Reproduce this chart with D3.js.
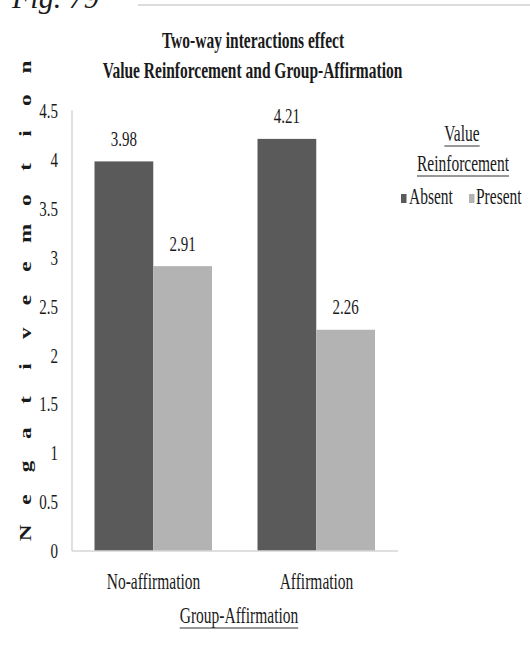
<!DOCTYPE html>
<html>
<head>
<meta charset="utf-8">
<script src="https://cdn.jsdelivr.net/npm/d3@7"></script>
<style>
  html, body { margin: 0; padding: 0; background: #fff; }
  svg { display: block; }
  text { font-family: "Liberation Serif", "Times New Roman", serif; fill: #1a1a1a; }
</style>
</head>
<body>
<svg id="chart" width="530" height="663"></svg>
<script>
// ---- data ----
const categories = ["No-affirmation", "Affirmation"];
const seriesNames = ["Absent", "Present"];
const absentValues = [3.98, 4.21];
const presentValues = [2.91, 2.26];
const yTickValues = [0, 0.5, 1, 1.5, 2, 2.5, 3, 3.5, 4, 4.5];
const yTickLabels = ["0", "0.5", "1", "1.5", "2", "2.5", "3", "3.5", "4", "4.5"];
const titleLines = ["Two-way interactions effect", "Value Reinforcement and Group-Affirmation"];
const yAxisTitle = "Negative emotion";
const xAxisTitle = "Group-Affirmation";
const legendTitle = ["Value", "Reinforcement"];
const figLabel = "Fig. 79";

// ---- style ----
const colors = { Absent: "#5a5a5a", Present: "#b3b3b3" };
const axisColor = "#d6d6d6";
const S = 1.45;          // vertical stretch applied to the text glyphs
const fs = 15.5;

const svg = d3.select("#chart");

// text helper: baseline at (x, y), glyphs stretched vertically by S
function label(parent, x, y, str, opts = {}) {
  return parent.append("text")
    .attr("transform", `translate(${x},${y}) scale(1,${S})`)
    .attr("text-anchor", opts.anchor || "middle")
    .attr("font-size", opts.size || fs)
    .attr("font-weight", opts.weight || "normal")
    .text(str);
}

// ---- header ----
svg.append("text")
  .attr("x", 12).attr("y", 8)
  .attr("font-size", 30)
  .attr("font-style", "italic")
  .text(figLabel);
svg.append("line")
  .attr("x1", 138).attr("x2", 530).attr("y1", 5).attr("y2", 5)
  .attr("stroke", "#dcdcdc").attr("stroke-width", 2);

// ---- scales ----
const plot = { left: 72, right: 398 };
const y = d3.scaleLinear().domain([0, 4.5]).range([551, 110.5]);
const x0 = d3.scaleBand().domain(categories).range([plot.left, plot.right]);
const x1 = d3.scaleBand().domain(seriesNames).range([22.5, x0.bandwidth() - 23]);

const rows = categories.map((c, i) => ({
  category: c,
  values: [
    { series: "Absent", value: absentValues[i] },
    { series: "Present", value: presentValues[i] }
  ]
}));

// ---- title ----
label(svg, 253, 48, titleLines[0], { weight: "bold" });
label(svg, 252.5, 78, titleLines[1], { weight: "bold" });

// ---- axes lines ----
svg.append("line")
  .attr("x1", plot.left).attr("x2", plot.left)
  .attr("y1", y(4.5)).attr("y2", y(0))
  .attr("stroke", axisColor).attr("stroke-width", 1.5);

// y tick labels
const yTicks = svg.append("g");
yTickValues.forEach((v, i) => {
  label(yTicks, 58, y(v) + 7.3, yTickLabels[i], { anchor: "end", size: 15 });
});

// ---- bars ----
const groups = svg.append("g").selectAll("g")
  .data(rows).join("g")
  .attr("transform", d => `translate(${x0(d.category)},0)`);

groups.selectAll("rect")
  .data(d => d.values).join("rect")
  .attr("x", d => x1(d.series))
  .attr("width", x1.bandwidth())
  .attr("y", d => y(d.value))
  .attr("height", d => y(0) - y(d.value))
  .attr("fill", d => colors[d.series]);

groups.each(function (d) {
  const g = d3.select(this);
  d.values.forEach(v => {
    label(g, x1(v.series) + x1.bandwidth() / 2, y(v.value) - 15.5, v.value.toFixed(2), { size: 15 });
  });
});

// baseline
svg.append("line")
  .attr("x1", plot.left).attr("x2", plot.right)
  .attr("y1", y(0)).attr("y2", y(0))
  .attr("stroke", axisColor).attr("stroke-width", 1.5);

// x category labels
categories.forEach(c => {
  label(svg, x0(c) + x0.bandwidth() / 2, 589, c);
});

// x axis title, underlined
function underlined(x, yb, str) {
  const t = label(svg, x, yb, str);
  const w = t.node().getComputedTextLength();
  svg.append("line")
    .attr("x1", x - w / 2).attr("x2", x + w / 2)
    .attr("y1", yb + 5).attr("y2", yb + 5)
    .attr("stroke", "#333").attr("stroke-width", 1.2);
}
underlined(239, 623, xAxisTitle);

// y axis title: rotated letters spaced along the axis
const letters = yAxisTitle.replace(/ /g, "").split("");
const yl = d3.scalePoint().domain(d3.range(letters.length)).range([533, 67]);
letters.forEach((ch, i) => {
  svg.append("text")
    .attr("transform", `translate(25,${yl(i)}) scale(1,${S}) rotate(-90)`)
    .attr("text-anchor", "middle")
    .attr("dy", "0.35em")
    .attr("font-size", 16)
    .attr("font-weight", "bold")
    .text(ch);
});

// ---- legend ----
underlined(462, 141, legendTitle[0]);
underlined(463, 171, legendTitle[1]);

const legendItems = [
  { series: "Absent", sx: 401, tx: 409 },
  { series: "Present", sx: 469, tx: 476 }
];
legendItems.forEach(d => {
  svg.append("rect")
    .attr("x", d.sx).attr("y", 194)
    .attr("width", 5.5).attr("height", 9)
    .attr("fill", colors[d.series]);
  label(svg, d.tx, 204, d.series, { anchor: "start" });
});
</script>
</body>
</html>
